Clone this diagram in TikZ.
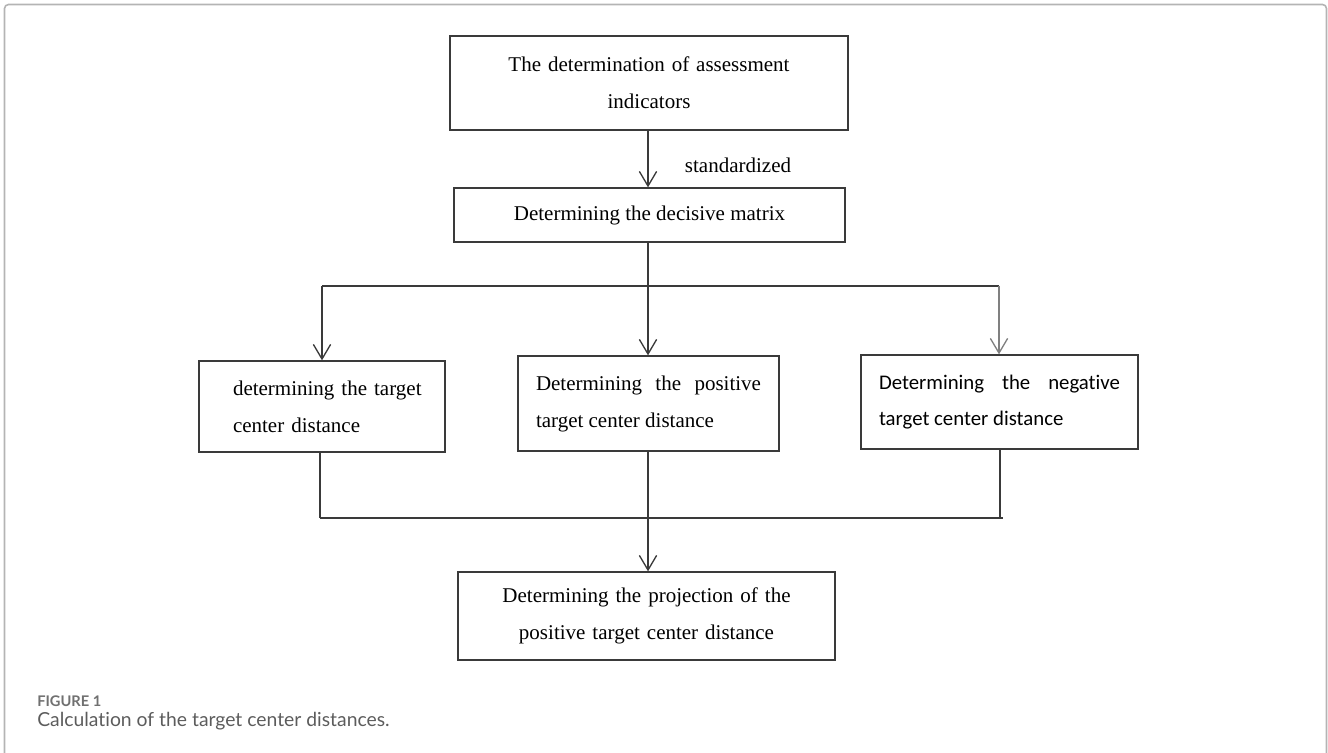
\documentclass[tikz,border=0pt]{standalone}
\usepackage{fontspec}
\setmainfont{Liberation Serif}
\newfontfamily\carfont[Ligatures=NoCommon]{Carlito}
\newfontfamily\capfont[Ligatures=NoCommon]{Lato}
\usetikzlibrary{arrows.meta,calc}
\definecolor{linecol}{HTML}{3A3A3A}
\definecolor{framecol}{HTML}{B4B4B4}
\definecolor{capcol}{HTML}{5C5C5C}
\definecolor{figcol}{HTML}{707070}
\hbadness=10000 \hfuzz=50pt
\tikzset{
  box/.style={draw=linecol, line width=1pt, inner sep=0pt, font=\fontsize{15.75}{27.75}\selectfont},
  arr/.style={draw=linecol, line width=1pt, -{Straight Barb[length=11pt,width=13pt,line width=1pt]}},
  ln/.style={draw=linecol, line width=1pt},
}
\begin{document}
\begin{tikzpicture}[x=0.75pt,y=-0.75pt]
\useasboundingbox (0,0) rectangle (1328,753);
\draw[framecol, line width=1.2pt, rounded corners=3pt] (4.5,790) -- (4.5,4.5) -- (1326.5,4.5) -- (1326.5,790);

\node[box, minimum width=398*0.75pt, minimum height=94*0.75pt, text width=300*0.75pt, align=center] (b1) at (649,83) {The determination of assessment\\indicators};
\node[box, minimum width=391*0.75pt, minimum height=54*0.75pt] (b2) at (649.5,215) {Determining the decisive matrix};
\node[box, minimum width=246*0.75pt, minimum height=91*0.75pt, text width=178*0.75pt, align=left] (bl) at (322,406.5) {\mbox{determining the target}\\center distance};
\node[box, minimum width=261*0.75pt, minimum height=95*0.75pt, text width=225*0.75pt, align=justify] (bm) at (648.5,403.5) {Determining the positive target center distance};
\node[box, minimum width=277*0.75pt, minimum height=94*0.75pt, text width=241*0.75pt, align=justify, font=\carfont\fontsize{15.6}{27}\selectfont] (br) at (999.5,402) {Determining the negative target center distance};
\node[box, minimum width=377*0.75pt, minimum height=88*0.75pt, text width=340*0.75pt, align=center] (bb) at (646.5,616) {Determining the projection of the\\positive target center distance};

\node[font=\fontsize{15.75}{18}\selectfont, inner sep=0pt] (lab) at (738,165) {standardized};

\coordinate (s) at (648,286);
\coordinate (sl) at (322,286);
\coordinate (sr) at (999,286);
\coordinate (ml) at (320,518);
\coordinate (mr) at (1000,518);
\coordinate (m) at (648,518);

\draw[arr] (b1.south -| s) -- (b2.north -| s);
\draw[ln] (b2.south -| s) -- (s);
\draw[ln] (sl) -- (sr);
\draw[arr] (sl) -- (sl |- bl.north);
\draw[arr] (s) -- (s |- bm.north);
\draw[arr, draw=gray] (sr) -- (sr |- br.north);

\draw[ln] (ml |- bl.south) -- (ml);
\draw[ln] (mr |- br.south) -- (mr);
\draw[ln] (ml) -- ($(mr)+(3,0)$);
\draw[arr] (m |- bm.south) -- (m |- bb.north);

\node[anchor=base west, inner sep=0pt, text=figcol, font=\capfont\bfseries\fontsize{11}{13}\selectfont] (fig) at (37,706) {FIGURE 1};
\node[anchor=base west, inner sep=0pt, text=capcol, font=\capfont\fontsize{14.5}{17}\selectfont] (cap) at (37,726) {Calculation of the target center distances.};
\end{tikzpicture}
\end{document}
